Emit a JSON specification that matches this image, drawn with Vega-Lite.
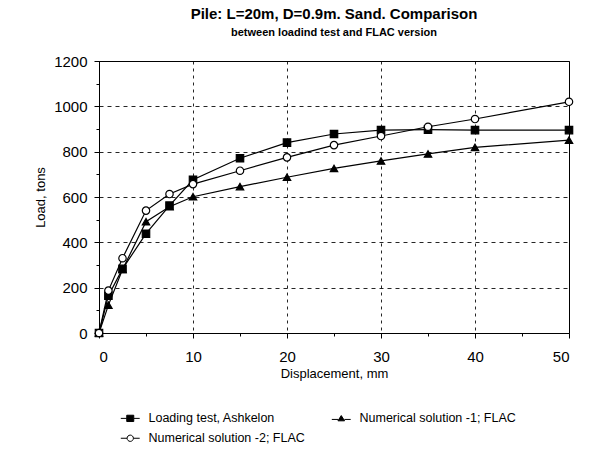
{
  "$schema": "https://vega.github.io/schema/vega-lite/v6.json",
  "width": 470,
  "height": 272,
  "autosize": {"type": "none"},
  "padding": {"left": 99, "top": 61, "right": 44, "bottom": 130},
  "background": "white",
  "title": {
    "text": "Pile: L=20m, D=0.9m. Sand. Comparison",
    "subtitle": "between loadind test and FLAC version",
    "font": "Liberation Sans",
    "fontSize": 15,
    "fontWeight": "bold",
    "color": "black",
    "subtitleFont": "Liberation Sans",
    "subtitleFontSize": 11,
    "subtitleFontWeight": "bold",
    "subtitleColor": "black",
    "subtitlePadding": 5,
    "anchor": "middle",
    "offset": 16
  },
  "config": {
    "view": {"stroke": "black", "strokeWidth": 1},
    "font": "Liberation Sans",
    "legend": {
      "title": null,
      "orient": "none",
      "direction": "horizontal",
      "legendX": 25,
      "legendY": 351,
      "columns": 2,
      "columnPadding": 24,
      "rowPadding": 7,
      "labelFont": "Liberation Sans",
      "labelFontSize": 12.5,
      "labelColor": "black",
      "symbolSize": 49,
      "symbolStrokeWidth": 1,
      "labelOffset": 12
    }
  },
  "data": {
    "values": [
      {"series": "Loading test, Ashkelon", "disp": 0, "load": 0},
      {"series": "Loading test, Ashkelon", "disp": 1, "load": 165},
      {"series": "Loading test, Ashkelon", "disp": 2.5, "load": 283},
      {"series": "Loading test, Ashkelon", "disp": 5, "load": 438},
      {"series": "Loading test, Ashkelon", "disp": 7.5, "load": 562},
      {"series": "Loading test, Ashkelon", "disp": 10, "load": 676},
      {"series": "Loading test, Ashkelon", "disp": 15, "load": 771},
      {"series": "Loading test, Ashkelon", "disp": 20, "load": 840},
      {"series": "Loading test, Ashkelon", "disp": 25, "load": 878},
      {"series": "Loading test, Ashkelon", "disp": 30, "load": 895},
      {"series": "Loading test, Ashkelon", "disp": 35, "load": 897},
      {"series": "Loading test, Ashkelon", "disp": 40, "load": 895},
      {"series": "Loading test, Ashkelon", "disp": 50, "load": 895},
      {"series": "Numerical solution -1; FLAC", "disp": 0, "load": 0},
      {"series": "Numerical solution -1; FLAC", "disp": 1, "load": 123},
      {"series": "Numerical solution -1; FLAC", "disp": 2.5, "load": 280},
      {"series": "Numerical solution -1; FLAC", "disp": 5, "load": 491},
      {"series": "Numerical solution -1; FLAC", "disp": 7.5, "load": 557},
      {"series": "Numerical solution -1; FLAC", "disp": 10, "load": 601},
      {"series": "Numerical solution -1; FLAC", "disp": 15, "load": 646},
      {"series": "Numerical solution -1; FLAC", "disp": 20, "load": 687},
      {"series": "Numerical solution -1; FLAC", "disp": 25, "load": 726},
      {"series": "Numerical solution -1; FLAC", "disp": 30, "load": 759},
      {"series": "Numerical solution -1; FLAC", "disp": 35, "load": 790},
      {"series": "Numerical solution -1; FLAC", "disp": 40, "load": 819},
      {"series": "Numerical solution -1; FLAC", "disp": 50, "load": 851},
      {"series": "Numerical solution -2; FLAC", "disp": 0, "load": 0},
      {"series": "Numerical solution -2; FLAC", "disp": 1, "load": 187},
      {"series": "Numerical solution -2; FLAC", "disp": 2.5, "load": 330},
      {"series": "Numerical solution -2; FLAC", "disp": 5, "load": 540},
      {"series": "Numerical solution -2; FLAC", "disp": 7.5, "load": 613},
      {"series": "Numerical solution -2; FLAC", "disp": 10, "load": 657},
      {"series": "Numerical solution -2; FLAC", "disp": 15, "load": 716},
      {"series": "Numerical solution -2; FLAC", "disp": 20, "load": 775},
      {"series": "Numerical solution -2; FLAC", "disp": 25, "load": 829},
      {"series": "Numerical solution -2; FLAC", "disp": 30, "load": 869},
      {"series": "Numerical solution -2; FLAC", "disp": 35, "load": 910},
      {"series": "Numerical solution -2; FLAC", "disp": 40, "load": 944},
      {"series": "Numerical solution -2; FLAC", "disp": 50, "load": 1020}
    ]
  },
  "resolve": {
    "axis": {"x": "independent", "y": "independent"},
    "scale": {"shape": "independent", "fill": "independent", "stroke": "independent"}
  },
  "layer": [
    {
      "mark": {"type": "line", "color": "black", "strokeWidth": 1.2},
      "encoding": {
        "detail": {"field": "series"},
        "x": {
          "field": "disp",
          "type": "quantitative",
          "scale": {"domain": [0, 50], "nice": false},
          "axis": {
            "orient": "bottom",
            "title": "Displacement, mm",
            "values": [0, 10, 20, 30, 40, 50],
            "grid": true,
            "gridColor": "black",
            "gridDash": [3, 4],
            "gridOpacity": 0.85,
            "domainColor": "black",
            "tickColor": "black",
            "tickSize": 5,
            "labelFontSize": 15,
            "labelColor": "black",
            "labelPadding": 11,
            "labelFont": "Liberation Sans",
            "titleFont": "Liberation Sans",
            "titleFontSize": 13,
            "titleFontWeight": "normal",
            "titleColor": "black",
            "titlePadding": 3
          }
        },
        "y": {
          "field": "load",
          "type": "quantitative",
          "scale": {"domain": [0, 1200], "nice": false},
          "axis": {
            "orient": "left",
            "title": "Load, tons",
            "values": [0, 200, 400, 600, 800, 1000, 1200],
            "format": "d",
            "grid": true,
            "gridColor": "black",
            "gridDash": [4, 4],
            "gridOpacity": 0.85,
            "domainColor": "black",
            "tickColor": "black",
            "tickSize": 5,
            "labelFontSize": 15,
            "labelColor": "black",
            "labelPadding": 7,
            "labelFont": "Liberation Sans",
            "titleFont": "Liberation Sans",
            "titleFontSize": 13,
            "titleFontWeight": "normal",
            "titleColor": "black",
            "titlePadding": 6
          }
        }
      }
    },
    {
      "mark": {"type": "point", "size": 55, "stroke": "black", "strokeWidth": 1.2, "opacity": 1},
      "encoding": {
        "x": {
          "field": "disp",
          "type": "quantitative",
          "axis": {
            "orient": "bottom",
            "title": null,
            "values": [5, 15, 25, 35, 45],
            "labels": false,
            "grid": false,
            "domain": false,
            "tickColor": "black",
            "tickSize": 3
          }
        },
        "y": {
          "field": "load",
          "type": "quantitative",
          "axis": {
            "orient": "left",
            "title": null,
            "values": [100, 300, 500, 700, 900, 1100],
            "labels": false,
            "grid": false,
            "domain": false,
            "tickColor": "black",
            "tickSize": 3
          }
        },
        "shape": {
          "field": "series",
          "type": "nominal",
          "scale": {
            "domain": ["Loading test, Ashkelon", "Numerical solution -1; FLAC", "Numerical solution -2; FLAC"],
            "range": ["square", "triangle-up", "circle"]
          },
          "legend": null
        },
        "fill": {
          "field": "series",
          "type": "nominal",
          "scale": {
            "domain": ["Loading test, Ashkelon", "Numerical solution -1; FLAC", "Numerical solution -2; FLAC"],
            "range": ["black", "black", "white"]
          },
          "legend": null
        }
      }
    },
    {
      "transform": [{"filter": "false"}],
      "mark": {"type": "point", "size": 49, "strokeWidth": 1, "opacity": 1},
      "encoding": {
        "x": {"field": "disp", "type": "quantitative", "axis": null},
        "y": {"field": "load", "type": "quantitative", "axis": null},
        "shape": {
          "field": "series",
          "type": "nominal",
          "scale": {
            "domain": ["Loading test, Ashkelon", "Numerical solution -1; FLAC", "Numerical solution -2; FLAC"],
            "range": [
              "M-2.7,0H-1M1,0H2.7M-1,-0.9H1V0.9H-1Z",
              "M-2.7,0.3H-0.9M0.9,0.3H2.7M0,-0.8L0.95,0.7H-0.95Z",
              "M-2.7,0H-0.9M0.9,0H2.7M0.9,0A0.9,0.9 0 1,1 -0.9,0A0.9,0.9 0 1,1 0.9,0Z"
            ]
          }
        },
        "fill": {
          "field": "series",
          "type": "nominal",
          "scale": {
            "domain": ["Loading test, Ashkelon", "Numerical solution -1; FLAC", "Numerical solution -2; FLAC"],
            "range": ["black", "black", "white"]
          }
        },
        "stroke": {
          "field": "series",
          "type": "nominal",
          "scale": {
            "domain": ["Loading test, Ashkelon", "Numerical solution -1; FLAC", "Numerical solution -2; FLAC"],
            "range": ["black", "black", "black"]
          }
        }
      }
    }
  ]
}
